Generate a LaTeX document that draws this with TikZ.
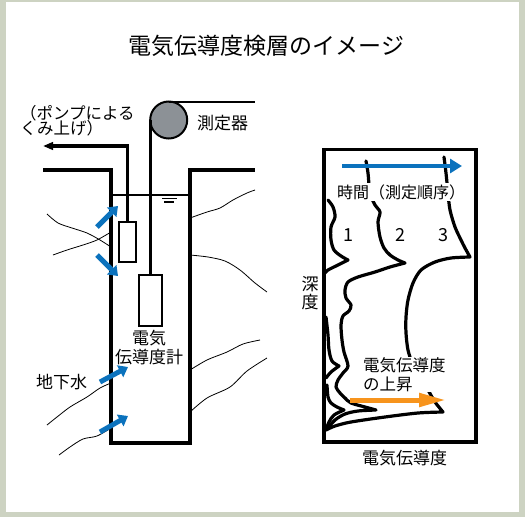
\documentclass[tikz,border=0pt]{standalone}
\usepackage{fontspec}
\newfontfamily\jp{Noto Sans CJK JP}
\usetikzlibrary{arrows.meta}
\definecolor{framecol}{RGB}{205,211,194}
\definecolor{flowblue}{RGB}{11,114,189}
\definecolor{riseorange}{RGB}{247,148,29}
\definecolor{pulleygray}{RGB}{140,145,150}
\begin{document}
\begin{tikzpicture}[x=1pt,y=-1pt,
  every node/.style={inner sep=0pt, outer sep=0pt},
  txt/.style={font=\jp\fontsize{#1}{#1}\selectfont},
  txt/.default=17,
  wall/.style={line width=3.6pt, line join=miter},
  soil/.style={line width=0.8pt},
  curve/.style={line width=3.2pt, line cap=round, line join=round},
  inflow/.style={flowblue, line width=5pt, -{Triangle[length=9pt,width=13pt]}},
  probebox/.style={draw, line width=2pt, fill=white}]
\useasboundingbox (0,0) rectangle (525,517);
\fill[framecol] (0,0) rectangle (525,517);
\fill[white] (6,2) rectangle (519,512);

% title
\node[txt=23] (title) at (266.5,46) {電気伝導度検層のイメージ};

% ---------- borehole ----------
% soil strata
\draw[soil] plot[smooth] coordinates {(47,214) (58,223) (72,228) (87,233) (100,240) (111,247)};
\draw[soil] plot[smooth] coordinates {(53,255) (67,250) (83,245) (97,240) (111,232)};
\draw[soil] plot[smooth] coordinates {(47,425) (57,417) (70,407) (87,397) (100,388) (111,383)};
\draw[soil] plot[smooth] coordinates {(59,455) (70,447) (83,439) (97,436) (111,428)};
\draw[soil] plot[smooth] coordinates {(190,218) (207,212) (220,208) (233,200) (247,193) (255,190)};
\draw[soil] plot[smooth] coordinates {(190,255) (208,257) (225,261) (240,270) (255,283) (267,292)};
\draw[soil] plot[smooth] coordinates {(190,370) (207,360) (227,352) (243,344) (260,340)};
\draw[soil] plot[smooth] coordinates {(190,412) (207,398) (230,387) (247,371) (267,358)};

% well casing
\draw[wall] (43,170) -- (111,170) -- (111,443) -- (190,443) -- (190,170) -- (255,170);
% water level
\draw[line width=1.3pt] (111,195) -- (190,195);
\draw[line width=1.3pt] (162,198.5) -- (177,198.5);
\draw[line width=1.3pt] (164,202) -- (174,202);

% measuring equipment
\node[circle, draw, line width=2pt, fill=pulleygray, minimum size=37pt] (pulley) at (168.7,120) {};
\coordinate (wireend) at (255,101.5);
\draw[line width=2pt] (pulley.north) -- (wireend);
\node[probebox, minimum width=22.7pt, minimum height=50.7pt] (probe) at (150.2,300.3) {};
\draw[line width=2.7pt] (pulley.west) -- (probe.north);

% pump
\node[probebox, minimum width=17pt, minimum height=40pt] (pump) at (127.5,242) {};
\coordinate (outlet) at (43,146);
\draw[line width=3.2pt, -{Triangle[length=10pt,width=7.5pt]}] (pump.north) |- (outlet);

% groundwater inflow
\coordinate (i1a) at (97,227);  \coordinate (i1b) at (118,206);
\coordinate (i2a) at (97,255);  \coordinate (i2b) at (118,276);
\coordinate (i3a) at (100,382); \coordinate (i3b) at (128,367);
\coordinate (i4a) at (100,432); \coordinate (i4b) at (128,416);
\draw[inflow] (i1a) -- (i1b);
\draw[inflow] (i2a) -- (i2b);
\draw[inflow] (i3a) -- (i3b);
\draw[inflow] (i4a) -- (i4b);

% labels
\node[txt=16.5, align=left, anchor=west] (pumplabel) at (20,120.5) {（ポンプによる\\[-1.5pt]くみ上げ）};
\node[txt, anchor=west] (meter) at (197,123) {測定器};
\node[txt, align=center] (probelabel) at (149,347.5) {電気\\[2pt]伝導度計};
\node[txt, anchor=west] (gw) at (36,382) {地下水};

% ---------- logging chart ----------
\node[draw, line width=3.5pt, minimum width=152pt, minimum height=292.5pt] (chart) at (400,295.75) {};

% profile 1
\draw[curve] plot[smooth] coordinates {(328,200) (333,207) (335,217) (331,227) (331,240) (334,250) (341,256) (348,260)}
  -- plot[smooth] coordinates {(348,260) (338,265) (328,270) (325,273)};
\draw[curve] plot[smooth] coordinates {(326,317) (328,335) (329,350) (332,361) (339,366)}
  -- plot[smooth] coordinates {(339,366) (331,372) (326,378)};
\draw[curve] plot[smooth] coordinates {(327,385) (328,397) (331,403) (337,407) (344,410)}
  -- plot[smooth] coordinates {(344,410) (334,415) (329,422) (326,430)};
% profile 2
\draw[curve] plot[smooth] coordinates {(366,161) (368,173) (370,193) (375,205) (380,212) (378,222) (380,237) (384,248) (390,255) (398,260) (405,263)}
  -- plot[smooth] coordinates {(405,263) (390,267) (375,272) (358,277) (348,282) (345,290) (346,298) (351,305) (349,311) (343,316) (341,325) (342,340) (344,352) (348,366) (343,373) (338,380) (336,387) (340,393) (345,398) (351,403) (365,407) (376,410)}
  -- plot[smooth] coordinates {(376,410) (358,411) (345,414) (335,420) (327,429)};
% profile 3
\draw[curve] plot[smooth] coordinates {(444,157) (446,173) (448,193) (450,210) (455,227) (461,240) (465,248) (470,257)}
  -- plot[smooth] coordinates {(470,257) (451,258) (435,262) (421,270) (413,283) (408,300) (406,317) (406,333) (408,350) (413,365) (421,378) (428,390) (435,402) (443,412)}
  -- plot[smooth] coordinates {(443,412) (418,413) (385,417) (351,422) (335,426) (326,430)};

% time arrow and labels
\coordinate (t0) at (342,166); \coordinate (t1) at (462,166);
\draw[flowblue, line width=4.6pt, -{Triangle[length=12pt,width=14pt]}] (t0) -- (t1);
\node[txt=16, fill=white, inner sep=1pt] (timelabel) at (401,192) {時間（測定順序）};
\node[txt=18] (n1) at (348,235) {1};
\node[txt=18] (n2) at (400,235) {2};
\node[txt=18] (n3) at (443,235) {3};
\node[txt, align=center] (depth) at (310,293.5) {深\\[1pt]度};
\node[txt] (axis) at (404.5,458.5) {電気伝導度};

% conductivity rise
\node[txt=16.5, fill=white, inner sep=1pt, align=left, anchor=west] (rise) at (362,374.5) {電気伝導度\\[2pt]の上昇};
\coordinate (r0) at (350,400); \coordinate (r1) at (446,400);
\draw[riseorange, line width=5pt, -{Triangle[length=27pt,width=13pt]}] (r0) -- (r1);
\end{tikzpicture}
\end{document}
